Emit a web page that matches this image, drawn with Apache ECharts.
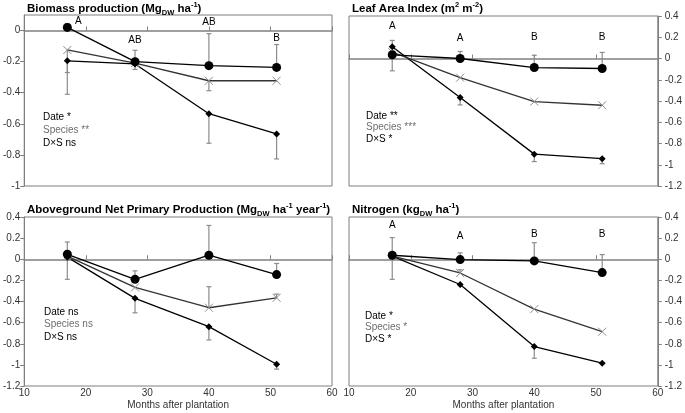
<!DOCTYPE html>
<html><head><meta charset="utf-8">
<script src="https://cdn.jsdelivr.net/npm/echarts@6/dist/echarts.min.js"></script>
<style>html,body{margin:0;padding:0;background:#fff}#c{width:685px;height:413px}</style>
</head><body><div id="c"></div>
<script>
// ---- data ----
const months = [17, 28, 40, 51];
const xTicks = [10, 20, 30, 40, 50, 60];

// Biomass production
const bioCircle = [0.02, -0.20, -0.226, -0.237];
const bioCross  = [-0.125, -0.21, -0.323, -0.323];
const bioDiam   = [-0.195, -0.215, -0.535, -0.665];
const bioCircleErrLo = [null, -0.25, null, null];
const bioCircleErrHi = [0.045, -0.127, -0.02, -0.09];
const bioCrossErrLo  = [-0.27, null, -0.387, null];
const bioCrossErrHi  = [null, null, null, null];
const bioDiamErrLo   = [-0.41, null, -0.725, -0.826];
const bioDiamErrHi   = [null, null, null, null];
const bioLetters = ['A', 'AB', 'AB', 'B'];
const bioLetterX = [18.8, 28, 40, 51];
const bioLetterY = [0.06, -0.063, 0.054, -0.047];
const bioStats = ['Date *', 'Species **', 'D\u00d7S ns'];

// Leaf Area Index
const laiCircle = [0.035, 0.0, -0.085, -0.094];
const laiCross  = [0.06, -0.18, -0.405, -0.44];
const laiDiam   = [0.11, -0.368, -0.90, -0.943];
const laiCircleErrLo = [-0.116, null, null, null];
const laiCircleErrHi = [null, 0.066, 0.03, 0.057];
const laiCrossErrLo  = [null, null, null, null];
const laiCrossErrHi  = [null, null, null, null];
const laiDiamErrLo   = [null, -0.437, -0.97, -0.99];
const laiDiamErrHi   = [0.17, null, null, null];
const laiLetters = ['A', 'A', 'B', 'B'];
const laiLetterX = [17, 28, 40, 51];
const laiLetterY = [0.30, 0.19, 0.20, 0.20];
const laiStats = ['Date **', 'Species ***', 'D\u00d7S *'];

// Aboveground Net Primary Production
const anppCircle = [0.047, -0.19, 0.038, -0.145];
const anppCross  = [0.03, -0.267, -0.459, -0.365];
const anppDiam   = [0.02, -0.37, -0.638, -0.994];
const anppCircleErrLo = [-0.19, null, null, null];
const anppCircleErrHi = [0.163, -0.11, 0.32, -0.04];
const anppCrossErrLo  = [null, null, null, null];
const anppCrossErrHi  = [null, null, -0.26, -0.33];
const anppDiamErrLo   = [null, -0.507, -0.764, -1.04];
const anppDiamErrHi   = [null, null, null, null];
const anppLetters = [];
const anppLetterX = [];
const anppLetterY = [];
const anppStats = ['Date ns', 'Species ns', 'D\u00d7S ns'];

// Nitrogen
const nCircle = [0.038, -0.003, -0.016, -0.126];
const nCross  = [0.03, -0.13, -0.472, -0.686];
const nDiam   = [0.03, -0.239, -0.827, -0.984];
const nCircleErrLo = [-0.19, null, null, null];
const nCircleErrHi = [0.205, 0.06, 0.157, 0.044];
const nCrossErrLo  = [null, null, null, null];
const nCrossErrHi  = [null, -0.10, null, null];
const nDiamErrLo   = [null, null, -0.937, null];
const nDiamErrHi   = [null, null, null, null];
const nLetters = ['A', 'A', 'B', 'B'];
const nLetterX = [17, 28, 40, 51];
const nLetterY = [0.32, 0.217, 0.233, 0.233];
const nStats = ['Date *', 'Species *', 'D\u00d7S *'];

// ---- layout / style ----
const FONT = 'Liberation Sans, Arial, sans-serif';
const panels = [
  {title: '{b|Biomass production (Mg}{sub|DW}{b| ha}{sup|-1}{b|)}', tl: 27, tt: 1,
   grid: {left: 24, top: 15, width: 308, height: 171}, ymin: -1, ymax: 0.1, yPos: 'left', bottomLabels: false,
   circle: bioCircle, cross: bioCross, diam: bioDiam,
   err: [[bioCircle, bioCircleErrLo, bioCircleErrHi], [bioCross, bioCrossErrLo, bioCrossErrHi], [bioDiam, bioDiamErrLo, bioDiamErrHi]],
   letters: bioLetters, letterX: bioLetterX, letterY: bioLetterY, stats: bioStats, sx: 43, sy: 118, sdy: 13},
  {title: '{b|Leaf Area Index (m}{sup|2}{b| m}{sup|-2}{b|)}', tl: 352, tt: 1,
   grid: {left: 349, top: 16, width: 309, height: 170}, ymin: -1.2, ymax: 0.4, yPos: 'right', bottomLabels: false,
   circle: laiCircle, cross: laiCross, diam: laiDiam,
   err: [[laiCircle, laiCircleErrLo, laiCircleErrHi], [laiCross, laiCrossErrLo, laiCrossErrHi], [laiDiam, laiDiamErrLo, laiDiamErrHi]],
   letters: laiLetters, letterX: laiLetterX, letterY: laiLetterY, stats: laiStats, sx: 366, sy: 117, sdy: 11.5},
  {title: '{b|Aboveground Net Primary Production (Mg}{sub|DW}{b| ha}{sup|-1}{b| year}{sup|-1}{b|)}', tl: 27, tt: 202,
   grid: {left: 24, top: 217, width: 308, height: 169}, ymin: -1.2, ymax: 0.4, yPos: 'left', bottomLabels: true,
   circle: anppCircle, cross: anppCross, diam: anppDiam,
   err: [[anppCircle, anppCircleErrLo, anppCircleErrHi], [anppCross, anppCrossErrLo, anppCrossErrHi], [anppDiam, anppDiamErrLo, anppDiamErrHi]],
   letters: anppLetters, letterX: anppLetterX, letterY: anppLetterY, stats: anppStats, sx: 44, sy: 313, sdy: 12.5},
  {title: '{b|Nitrogen (kg}{sub|DW}{b| ha}{sup|-1}{b|)}', tl: 352, tt: 202,
   grid: {left: 349, top: 217, width: 309, height: 169}, ymin: -1.2, ymax: 0.4, yPos: 'right', bottomLabels: true,
   circle: nCircle, cross: nCross, diam: nDiam,
   err: [[nCircle, nCircleErrLo, nCircleErrHi], [nCross, nCrossErrLo, nCrossErrHi], [nDiam, nDiamErrLo, nDiamErrHi]],
   letters: nLetters, letterX: nLetterX, letterY: nLetterY, stats: nStats, sx: 365, sy: 317, sdy: 11.5}
];

const titleRich = {
  b: {fontFamily: FONT, fontWeight: 'bold', fontSize: 11.5, color: '#000', lineHeight: 16},
  sub: {fontFamily: FONT, fontWeight: 'bold', fontSize: 7.5, color: '#000', verticalAlign: 'bottom', lineHeight: 16},
  sup: {fontFamily: FONT, fontWeight: 'bold', fontSize: 7.5, color: '#000', verticalAlign: 'top', lineHeight: 16}
};

const option = {
  animation: false,
  backgroundColor: '#fff',
  title: [], grid: [], xAxis: [], yAxis: [], series: [], graphic: []
};

const pts = arr => months.map((m, i) => [m, arr[i]]);

panels.forEach((p, k) => {
  option.title.push({text: p.title, left: p.tl, top: p.tt, padding: 0, textStyle: {rich: titleRich}});
  option.grid.push(Object.assign({show: true, borderColor: '#7f7f7f', borderWidth: 1, backgroundColor: 'transparent'}, p.grid));
  // axis line at zero with ticks
  option.xAxis.push({type: 'value', gridIndex: k, min: 10, max: 60, interval: 10,
    axisLine: {show: true, onZero: true, lineStyle: {color: '#808080', width: 1.5}},
    axisTick: {show: true, inside: true, length: 4, lineStyle: {color: '#808080', width: 1}},
    axisLabel: {show: false}, splitLine: {show: false}});
  // bottom labels axis
  option.xAxis.push({type: 'value', gridIndex: k, min: 10, max: 60, interval: 10, position: 'bottom',
    axisLine: {show: false, onZero: false}, axisTick: {show: false}, splitLine: {show: false},
    axisLabel: {show: p.bottomLabels, margin: 2, fontSize: 10, fontFamily: FONT, color: '#333'},
    name: p.bottomLabels ? 'Months after plantation' : '', nameLocation: 'middle', nameGap: 14,
    nameTextStyle: {fontSize: 10, fontFamily: FONT, color: '#333'}});
  option.yAxis.push({type: 'value', gridIndex: k, min: p.ymin, max: p.ymax, interval: 0.2, position: p.yPos,
    axisLine: {show: true, lineStyle: {color: '#7f7f7f'}},
    axisTick: {show: true, length: 4, lineStyle: {color: '#7f7f7f'}},
    axisLabel: {fontSize: 10, fontFamily: FONT, color: '#333', margin: p.yPos === 'right' ? 7 : 4, showMaxLabel: p.ymax === 0.4,
      formatter: v => (Math.abs(v) < 1e-9 ? '0' : String(Math.round(v * 10) / 10))},
    splitLine: {show: false}});

  const xi = 2 * k;
  // error bars
  const errData = [];
  p.err.forEach(([vals, lo, hi]) => {
    months.forEach((m, i) => {
      if (lo[i] == null && hi[i] == null) return;
      errData.push([m, lo[i] == null ? vals[i] : lo[i], hi[i] == null ? vals[i] : hi[i], lo[i] == null ? 0 : 1, hi[i] == null ? 0 : 1]);
    });
  });
  option.series.push({type: 'custom', xAxisIndex: xi, yAxisIndex: k, z: 1, data: errData,
    renderItem: (params, api) => {
      const a = api.coord([api.value(0), api.value(1)]);
      const b = api.coord([api.value(0), api.value(2)]);
      const st = {stroke: '#8c8c8c', lineWidth: 1.2};
      const ch = [{type: 'line', shape: {x1: a[0], y1: a[1], x2: b[0], y2: b[1]}, style: st}];
      if (api.value(3)) ch.push({type: 'line', shape: {x1: a[0] - 2.5, y1: a[1], x2: a[0] + 2.5, y2: a[1]}, style: st});
      if (api.value(4)) ch.push({type: 'line', shape: {x1: b[0] - 2.5, y1: b[1], x2: b[0] + 2.5, y2: b[1]}, style: st});
      return {type: 'group', children: ch};
    }});
  // series lines
  option.series.push({type: 'line', xAxisIndex: xi, yAxisIndex: k, z: 3, data: pts(p.diam),
    symbol: 'diamond', symbolSize: 7, lineStyle: {color: '#000', width: 1.3}, itemStyle: {color: '#000'}});
  option.series.push({type: 'line', xAxisIndex: xi, yAxisIndex: k, z: 4, data: pts(p.cross),
    symbol: 'path://M0 0L10 10M10 0L0 10', symbolSize: 8, lineStyle: {color: '#333', width: 1.3},
    itemStyle: {color: 'none', borderColor: '#8c8c8c', borderWidth: 1}});
  option.series.push({type: 'line', xAxisIndex: xi, yAxisIndex: k, z: 5, data: pts(p.circle),
    symbol: 'circle', symbolSize: 9, lineStyle: {color: '#000', width: 1.3}, itemStyle: {color: '#000'}});
  // letters
  if (p.letters.length) {
    option.series.push({type: 'custom', xAxisIndex: xi, yAxisIndex: k, z: 6,
      data: p.letterX.map((m, i) => [m, p.letterY[i], i]),
      renderItem: (params, api) => {
        const c = api.coord([api.value(0), api.value(1)]);
        return {type: 'text', x: c[0], y: c[1], style: {text: p.letters[api.value(2)], fontSize: 10, fontFamily: FONT,
          fill: '#000', align: 'center', verticalAlign: 'middle'}};
      }});
  }
  // stats text
  p.stats.forEach((s, j) => {
    option.graphic.push({type: 'text', left: p.sx, top: p.sy + j * p.sdy - 6,
      style: {text: s, fontSize: 10, fontFamily: FONT, fill: j === 1 ? '#6e6e6e' : '#000'}});
  });
});

const chart = echarts.init(document.getElementById('c'), null, {renderer: 'canvas'});
chart.setOption(option);
</script></body></html>
